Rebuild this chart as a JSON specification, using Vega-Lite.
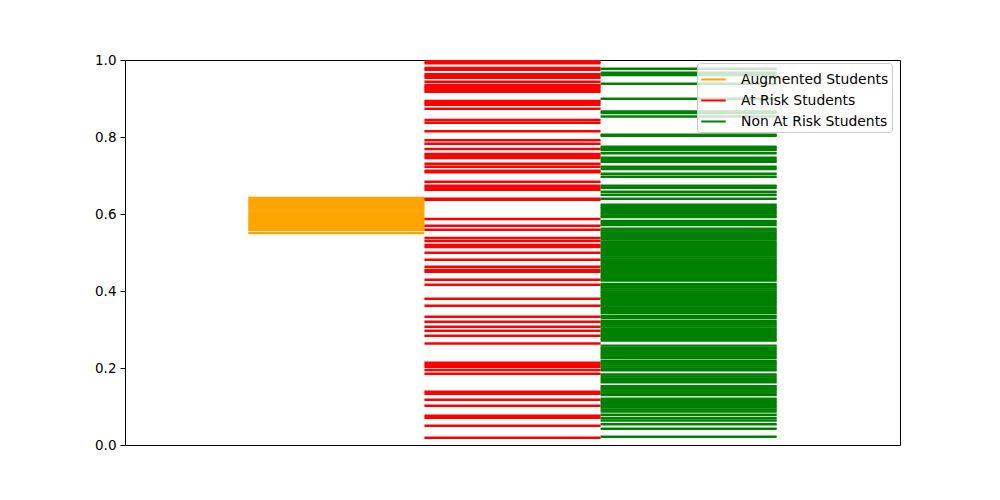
{
  "$schema": "https://vega.github.io/schema/vega-lite/v6.json",
  "width": 775,
  "height": 385,
  "autosize": {"type": "none"},
  "padding": {"left": 125, "top": 60, "right": 100, "bottom": 55},
  "background": "white",
  "config": {"view": {"stroke": "black", "strokeWidth": 1}, "font": "DejaVu Sans"},
  "datasets": {
    "groups": [
      {"g": "A", "label": "Augmented Students", "xmin": 0, "xmax": 1},
      {"g": "R", "label": "At Risk Students", "xmin": 1, "xmax": 2},
      {"g": "N", "label": "Non At Risk Students", "xmin": 2, "xmax": 3}
    ],
    "lines": [
      {"g":"A","y":0.642},{"g":"A","y":0.637},{"g":"A","y":0.632},{"g":"A","y":0.628},{"g":"A","y":0.623},{"g":"A","y":0.618},{"g":"A","y":0.614},{"g":"A","y":0.609},{"g":"A","y":0.604},{"g":"A","y":0.600},{"g":"A","y":0.595},{"g":"A","y":0.590},{"g":"A","y":0.586},{"g":"A","y":0.581},{"g":"A","y":0.576},{"g":"A","y":0.572},{"g":"A","y":0.567},{"g":"A","y":0.562},{"g":"A","y":0.559},{"g":"A","y":0.5506},
      {"g":"R","y":0.9966},{"g":"R","y":0.9914},{"g":"R","y":0.9792},{"g":"R","y":0.9748},{"g":"R","y":0.9629},{"g":"R","y":0.9584},{"g":"R","y":0.9540},{"g":"R","y":0.9436},{"g":"R","y":0.9351},{"g":"R","y":0.9306},{"g":"R","y":0.9265},{"g":"R","y":0.9221},{"g":"R","y":0.9177},{"g":"R","y":0.8935},{"g":"R","y":0.8888},{"g":"R","y":0.8839},{"g":"R","y":0.8735},{"g":"R","y":0.8442},{"g":"R","y":0.8371},{"g":"R","y":0.8148},{"g":"R","y":0.7914},{"g":"R","y":0.7826},{"g":"R","y":0.7688},{"g":"R","y":0.7558},{"g":"R","y":0.7506},{"g":"R","y":0.7455},{"g":"R","y":0.7304},{"g":"R","y":0.7226},{"g":"R","y":0.7122},{"g":"R","y":0.7086},{"g":"R","y":0.6836},{"g":"R","y":0.6735},{"g":"R","y":0.6683},{"g":"R","y":0.6631},{"g":"R","y":0.6397},{"g":"R","y":0.6371},{"g":"R","y":0.5870},{"g":"R","y":0.5696},{"g":"R","y":0.5592},{"g":"R","y":0.5377},{"g":"R","y":0.5299},{"g":"R","y":0.5195},{"g":"R","y":0.5143},{"g":"R","y":0.4992},{"g":"R","y":0.4810},{"g":"R","y":0.4628},{"g":"R","y":0.4545},{"g":"R","y":0.4501},{"g":"R","y":0.4291},{"g":"R","y":0.4161},{"g":"R","y":0.3797},{"g":"R","y":0.3616},{"g":"R","y":0.3330},{"g":"R","y":0.3200},{"g":"R","y":0.3070},{"g":"R","y":0.2966},{"g":"R","y":0.2836},{"g":"R","y":0.2636},{"g":"R","y":0.2138},{"g":"R","y":0.2086},{"g":"R","y":0.2034},{"g":"R","y":0.1948},{"g":"R","y":0.1852},{"g":"R","y":0.1384},{"g":"R","y":0.1332},{"g":"R","y":0.1174},{"g":"R","y":0.1018},{"g":"R","y":0.0761},{"g":"R","y":0.0709},{"g":"R","y":0.0501},{"g":"R","y":0.0190},
      {"g":"N","y":0.9771},{"g":"N","y":0.9670},{"g":"N","y":0.9610},{"g":"N","y":0.9384},{"g":"N","y":0.8995},{"g":"N","y":0.8662},{"g":"N","y":0.8623},{"g":"N","y":0.8532},{"g":"N","y":0.8060},{"g":"N","y":0.8034},{"g":"N","y":0.7748},{"g":"N","y":0.7706},{"g":"N","y":0.7662},{"g":"N","y":0.7576},{"g":"N","y":0.7462},{"g":"N","y":0.7410},{"g":"N","y":0.7358},{"g":"N","y":0.7229},{"g":"N","y":0.7169},{"g":"N","y":0.7047},{"g":"N","y":0.6969},{"g":"N","y":0.6735},{"g":"N","y":0.6683},{"g":"N","y":0.6579},{"g":"N","y":0.6501},{"g":"N","y":0.6395},
      {"g":"N","y":0.624},{"g":"N","y":0.619},{"g":"N","y":0.615},{"g":"N","y":0.610},{"g":"N","y":0.605},{"g":"N","y":0.601},{"g":"N","y":0.596},{"g":"N","y":0.592},{"g":"N","y":0.582},{"g":"N","y":0.577},{"g":"N","y":0.571},
      {"g":"N","y":0.562},{"g":"N","y":0.557},{"g":"N","y":0.552},{"g":"N","y":0.548},{"g":"N","y":0.543},{"g":"N","y":0.538},{"g":"N","y":0.534},{"g":"N","y":0.529},{"g":"N","y":0.524},{"g":"N","y":0.520},{"g":"N","y":0.515},{"g":"N","y":0.510},{"g":"N","y":0.506},{"g":"N","y":0.501},{"g":"N","y":0.496},{"g":"N","y":0.492},{"g":"N","y":0.487},{"g":"N","y":0.482},{"g":"N","y":0.478},{"g":"N","y":0.473},{"g":"N","y":0.468},{"g":"N","y":0.464},{"g":"N","y":0.459},{"g":"N","y":0.454},{"g":"N","y":0.450},{"g":"N","y":0.445},{"g":"N","y":0.440},{"g":"N","y":0.436},{"g":"N","y":0.431},{"g":"N","y":0.427},
      {"g":"N","y":0.418},{"g":"N","y":0.413},{"g":"N","y":0.409},{"g":"N","y":0.404},{"g":"N","y":0.399},{"g":"N","y":0.395},{"g":"N","y":0.390},{"g":"N","y":0.385},{"g":"N","y":0.381},{"g":"N","y":0.376},{"g":"N","y":0.371},{"g":"N","y":0.367},{"g":"N","y":0.362},{"g":"N","y":0.357},{"g":"N","y":0.353},{"g":"N","y":0.348},{"g":"N","y":0.343},{"g":"N","y":0.335},{"g":"N","y":0.330},
      {"g":"N","y":0.322},{"g":"N","y":0.317},{"g":"N","y":0.313},{"g":"N","y":0.308},{"g":"N","y":0.303},{"g":"N","y":0.299},{"g":"N","y":0.294},{"g":"N","y":0.289},{"g":"N","y":0.285},{"g":"N","y":0.280},{"g":"N","y":0.275},{"g":"N","y":0.271},
      {"g":"N","y":0.258},{"g":"N","y":0.253},{"g":"N","y":0.249},{"g":"N","y":0.244},{"g":"N","y":0.239},{"g":"N","y":0.235},{"g":"N","y":0.230},{"g":"N","y":0.226},
      {"g":"N","y":0.218},{"g":"N","y":0.213},{"g":"N","y":0.209},{"g":"N","y":0.204},{"g":"N","y":0.199},{"g":"N","y":0.194},
      {"g":"N","y":0.183},{"g":"N","y":0.178},{"g":"N","y":0.173},{"g":"N","y":0.168},{"g":"N","y":0.163},
      {"g":"N","y":0.153},{"g":"N","y":0.148},{"g":"N","y":0.144},{"g":"N","y":0.139},{"g":"N","y":0.134},{"g":"N","y":0.130},
      {"g":"N","y":0.120},{"g":"N","y":0.115},{"g":"N","y":0.111},{"g":"N","y":0.106},{"g":"N","y":0.101},{"g":"N","y":0.097},{"g":"N","y":0.092},{"g":"N","y":0.087},
      {"g":"N","y":0.0784},{"g":"N","y":0.0701},{"g":"N","y":0.0636},{"g":"N","y":0.0538},{"g":"N","y":0.0421},{"g":"N","y":0.0216}
    ]
  },
  "data": {"name": "lines"},
  "transform": [
    {"lookup": "g", "from": {"data": {"name": "groups"}, "key": "g", "fields": ["label", "xmin", "xmax"]}}
  ],
  "mark": {"type": "rule", "strokeWidth": 2.4, "clip": true},
  "encoding": {
    "x": {
      "field": "xmin", "type": "quantitative",
      "scale": {"domain": [-0.7, 3.7], "nice": false, "zero": false},
      "axis": {"ticks": false, "labels": false, "domain": false, "grid": false, "title": null}
    },
    "x2": {"field": "xmax"},
    "y": {
      "field": "y", "type": "quantitative",
      "scale": {"domain": [0, 1], "nice": false, "zero": false},
      "axis": {"values": [0, 0.2, 0.4, 0.6, 0.8, 1], "format": ".1f", "grid": false, "title": null, "domain": false, "tickSize": 5, "tickColor": "black", "tickWidth": 1, "labelColor": "black", "labelFontSize": 13.5, "labelFont": "DejaVu Sans", "labelPadding": 4}
    },
    "color": {
      "field": "label", "type": "nominal",
      "scale": {"domain": ["Augmented Students", "At Risk Students", "Non At Risk Students"], "range": ["#FFA500", "#FF0000", "#008000"]},
      "legend": {
        "title": null, "orient": "none", "legendX": 572, "legendY": 3,
        "symbolType": "stroke", "symbolStrokeWidth": 2, "symbolSize": 600,
        "labelFontSize": 13.9, "labelFont": "DejaVu Sans", "labelColor": "black", "labelOffset": 14,
        "fillColor": "rgba(255,255,255,0.8)", "strokeColor": "#cccccc", "cornerRadius": 3,
        "padding": 3, "rowPadding": 0
      }
    }
  }
}
